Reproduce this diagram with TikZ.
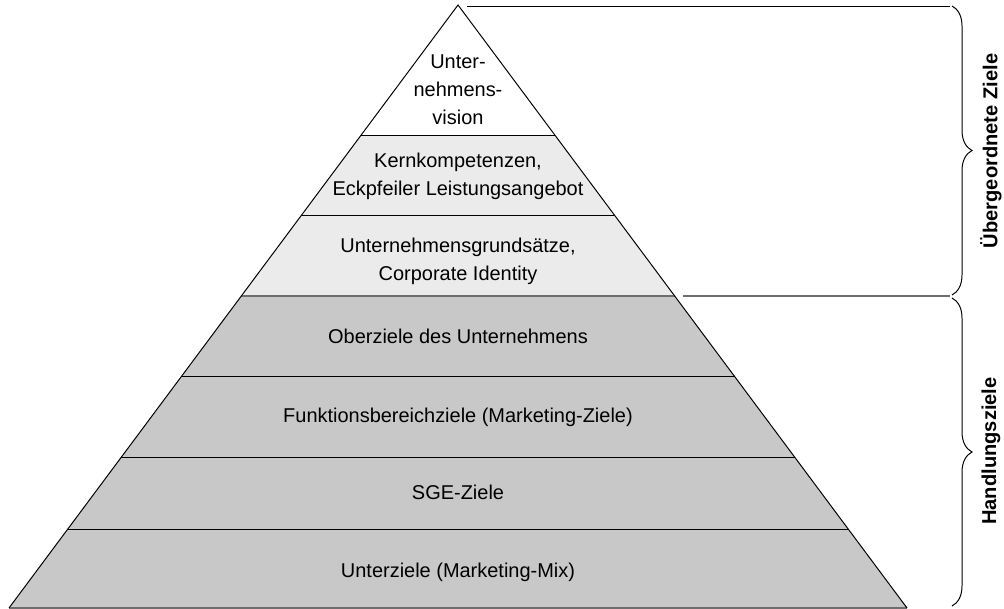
\documentclass[tikz,border=0pt]{standalone}
\usepackage{fontspec}
\setmainfont{Liberation Sans}
\usetikzlibrary{calc,decorations.pathreplacing}
\definecolor{lightlayer}{HTML}{EBEBEB}
\definecolor{darklayer}{HTML}{C8C8C8}
\definecolor{edgegray}{HTML}{6E6E6E}

\begin{document}
\begin{tikzpicture}[x=.025cm,y=-.025cm,line width=.7pt,
    layer/.style={font=\fontsize{14.2}{19.9}\selectfont,align=center},
    side/.style={font=\fontsize{14.3}{16}\selectfont\bfseries,rotate=90},
    brace/.style={decorate,decoration={brace,amplitude=.5cm}}]
  \useasboundingbox (0,0) rectangle (1004,609);
  \coordinate(A) at (458,5);
  \coordinate(L) at (9,608);
  \coordinate(R) at (907,608);
  % Schichten
  \foreach \ta/\tb/\col in {%
    0/.2156/white,
    .2156/.3483/lightlayer,
    .3483/.4826/lightlayer,
    .4826/.6153/darklayer,
    .6153/.7496/darklayer,
    .7496/.8690/darklayer,
    .8690/1/darklayer}{%
      \fill[\col]($(A)!\ta!(L)$)--($(A)!\tb!(L)$)--($(A)!\tb!(R)$)--($(A)!\ta!(R)$)--cycle;
    }
  \foreach \t in {.2156,.3483,.6153,.7496,.8690}{%
    \draw($(A)!\t!(L)$)--($(A)!\t!(R)$);
  }
  \draw[edgegray,line width=1.2pt]($(A)!.4826!(L)$)--($(A)!.4826!(R)$);
  \draw[edgegray,line width=1pt](L)--(R);
  \draw(L)--(A)--(R);
  % Texte
  \node[layer](vision) at (458,90){Unter-\\nehmens-\\vision};
  \node[layer](kern) at (458,176){Kernkompetenzen,\\Eckpfeiler Leistungsangebot};
  \node[layer](grund) at (458,261){Unternehmensgrundsätze,\\Corporate Identity};
  \node[layer](ober) at (458,336){Oberziele des Unternehmens};
  \node[layer](funk) at (458,417){Funktionsbereichziele (Marketing-Ziele)};
  \node[layer](sge) at (458,492){SGE-Ziele};
  \node[layer](unter) at (458,572){Unterziele (Marketing-Mix)};
  % Klammern rechts
  \coordinate(top) at (467,6);
  \coordinate(topend) at (950,6);
  \coordinate(mid) at (683,296);
  \coordinate(midend) at (950,296);
  \draw(top)--(topend);
  \draw[edgegray,line width=1pt](mid)--(midend);
  \coordinate(b1) at (952,6);
  \coordinate(b2) at (952,295);
  \coordinate(b3) at (952,298);
  \coordinate(b4) at (952,606);
  \draw[brace](b1)--(b2);
  \draw[brace](b3)--(b4);
  \node[side](ueber) at (991,151){Übergeordnete Ziele};
  \node[side](handl) at (991,451){Handlungsziele};
\end{tikzpicture}
\end{document}
